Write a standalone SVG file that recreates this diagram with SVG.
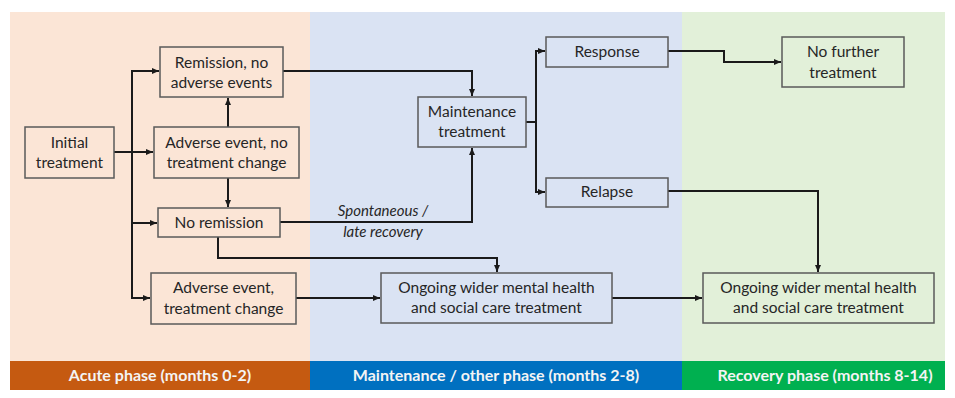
<svg xmlns="http://www.w3.org/2000/svg" width="955" height="398" viewBox="0 0 955 398">
<style>
.box{fill:none;stroke:#5a5a5a;stroke-width:1.5}
.t{font-family:Lato,"Open Sans","Liberation Sans",sans-serif;font-size:15.5px;fill:#262626;text-anchor:middle}
.it{font-family:Lato,"Open Sans","Liberation Sans",sans-serif;font-size:15px;font-style:italic;fill:#262626;text-anchor:middle}
.band{font-family:Lato,"Open Sans","Liberation Sans",sans-serif;font-size:16px;font-weight:bold;fill:#f4f4f4;text-anchor:middle}
.c{fill:none;stroke:#1a1a1a;stroke-width:2}
</style>
<defs>
<marker id="a" markerUnits="userSpaceOnUse" markerWidth="8" markerHeight="8" refX="7" refY="4" orient="auto">
<path d="M0,1 L7,4 L0,7 Z" fill="#1a1a1a"/>
</marker>
</defs>
<rect x="0" y="0" width="955" height="398" fill="#ffffff"/>
<g id="panels">
<rect x="10" y="12" width="300" height="349" fill="#fbe5d6"/>
<rect x="310" y="12" width="372" height="349" fill="#dae3f3"/>
<rect x="682" y="12" width="263" height="349" fill="#e2f0d9"/>
<rect x="10" y="361" width="300" height="29" fill="#c55a11"/>
<rect x="310" y="361" width="372" height="29" fill="#0070c0"/>
<rect x="682" y="361" width="263" height="29" fill="#00b050"/>
<text class="band" x="160" y="381">Acute phase (months 0-2)</text>
<text class="band" x="496" y="381">Maintenance / other phase (months 2-8)</text>
<text class="band" x="825" y="381">Recovery phase (months 8-14)</text>
</g>
<g id="connectors">
<path class="c" d="M114,152 H153" marker-end="url(#a)"/>
<path class="c" d="M132,71 V298"/>
<path class="c" d="M131,71 H159" marker-end="url(#a)"/>
<path class="c" d="M131,223 H157" marker-end="url(#a)"/>
<path class="c" d="M131,298 H150" marker-end="url(#a)"/>
<path class="c" d="M228,127 V98" marker-end="url(#a)"/>
<path class="c" d="M228,178 V207" marker-end="url(#a)"/>
<path class="c" d="M283,71 H472 V96" marker-end="url(#a)"/>
<path class="c" d="M280,222 H472 V148" marker-end="url(#a)"/>
<path class="c" d="M218,237 V258 H497 V272" marker-end="url(#a)"/>
<path class="c" d="M296,298 H380" marker-end="url(#a)"/>
<path class="c" d="M612,298 H702" marker-end="url(#a)"/>
<path class="c" d="M526,122 H536"/>
<path class="c" d="M536,51 V192"/>
<path class="c" d="M535,51 H545" marker-end="url(#a)"/>
<path class="c" d="M535,192 H545" marker-end="url(#a)"/>
<path class="c" d="M668,51 H724 V62 H781" marker-end="url(#a)"/>
<path class="c" d="M668,191 H818 V272" marker-end="url(#a)"/>
<text class="it" x="383" y="216">Spontaneous /</text>
<text class="it" x="383" y="237">late recovery</text>
</g>
<g id="initial">
<rect class="box" x="25" y="127" width="89" height="51"/>
<text class="t" x="69.5" y="148">Initial</text>
<text class="t" x="69.5" y="168">treatment</text>
</g>
<g id="remission">
<rect class="box" x="160" y="47" width="123" height="50"/>
<text class="t" x="221.5" y="68">Remission, no</text>
<text class="t" x="221.5" y="88">adverse events</text>
</g>
<g id="ae-nochange">
<rect class="box" x="154" y="127" width="145" height="51"/>
<text class="t" x="226.5" y="148">Adverse event, no</text>
<text class="t" x="226.5" y="168">treatment change</text>
</g>
<g id="noremission">
<rect class="box" x="158" y="208" width="122" height="29"/>
<text class="t" x="219" y="228">No remission</text>
</g>
<g id="ae-change">
<rect class="box" x="151" y="273" width="145" height="51"/>
<text class="t" x="223.5" y="293">Adverse event,</text>
<text class="t" x="223.5" y="314">treatment change</text>
</g>
<g id="maintenance">
<rect class="box" x="418" y="97" width="108" height="50"/>
<text class="t" x="472" y="117">Maintenance</text>
<text class="t" x="472" y="137">treatment</text>
</g>
<g id="ongoing-mid">
<rect class="box" x="381" y="273" width="231" height="50"/>
<text class="t" x="496.5" y="293">Ongoing wider mental health</text>
<text class="t" x="496.5" y="313">and social care treatment</text>
</g>
<g id="response">
<rect class="box" x="546" y="37" width="122" height="30"/>
<text class="t" x="607" y="57">Response</text>
</g>
<g id="relapse">
<rect class="box" x="546" y="178" width="122" height="29"/>
<text class="t" x="607" y="197">Relapse</text>
</g>
<g id="nofurther">
<rect class="box" x="782" y="37" width="122" height="50"/>
<text class="t" x="843" y="57">No further</text>
<text class="t" x="843" y="78">treatment</text>
</g>
<g id="ongoing-right">
<rect class="box" x="703" y="273" width="231" height="50"/>
<text class="t" x="818.5" y="293">Ongoing wider mental health</text>
<text class="t" x="818.5" y="313">and social care treatment</text>
</g>
</svg>
